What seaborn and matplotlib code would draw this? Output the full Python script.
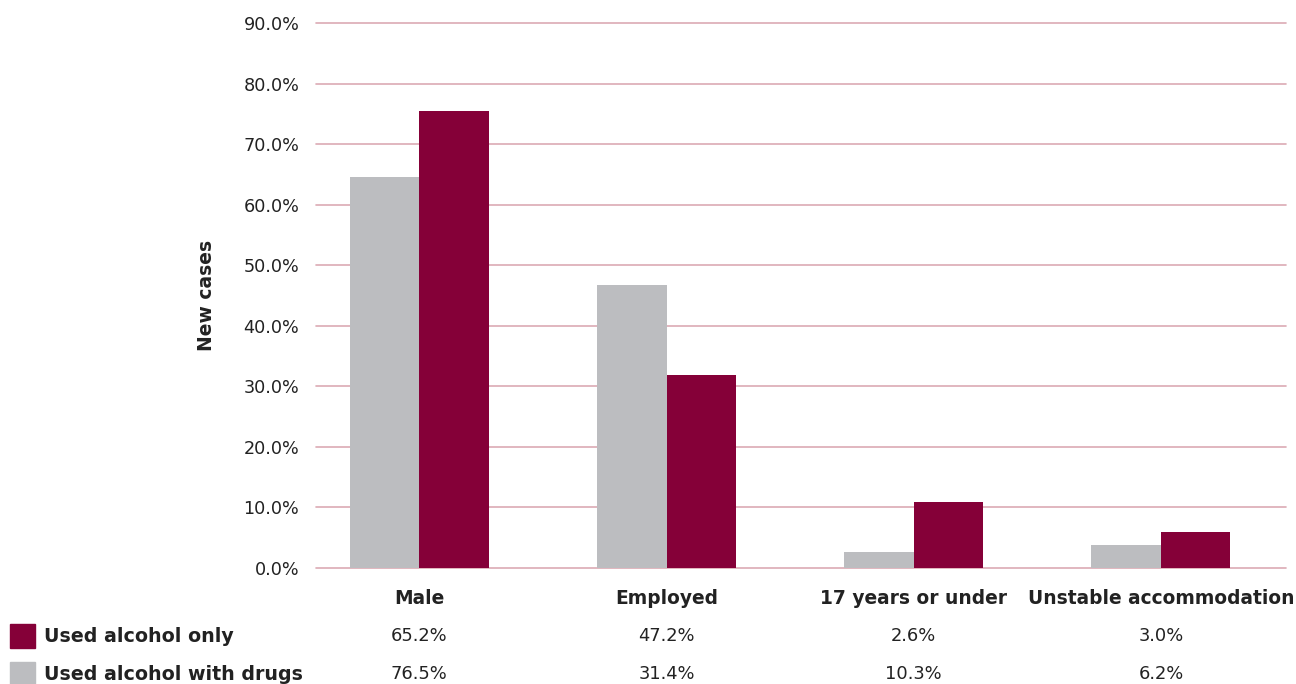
import numpy as np
import pandas as pd
import matplotlib
matplotlib.use("Agg")
import matplotlib.pyplot as plt
import matplotlib.transforms as mtransforms
from matplotlib.patches import Rectangle
import seaborn as sns

# chart data (bar heights, table labels as printed)
categories = ["Male", "Employed", "17 years or under", "Unstable accommodation"]
grey_series = "Used alcohol with drugs"
maroon_series = "Used alcohol only"
grey_values = [64.5, 46.7, 2.6, 3.8]
maroon_values = [75.4, 31.8, 10.9, 5.9]
row_alcohol_only = ["65.2%", "47.2%", "2.6%", "3.0%"]
row_alcohol_drugs = ["76.5%", "31.4%", "10.3%", "6.2%"]
y_ticks = [0, 10, 20, 30, 40, 50, 60, 70, 80, 90]

GREY = "#bcbdc0"
MAROON = "#850038"
GRID = "#dcaab4"
TEXT = "#222222"

df = pd.DataFrame({
    "category": categories * 2,
    "series": [grey_series] * 4 + [maroon_series] * 4,
    "value": grey_values + maroon_values,
})

sns.set_style("white")
plt.rcParams["font.family"] = ["DejaVu Sans"]

fig = plt.figure(figsize=(12.96, 6.84), dpi=100)
ax = fig.add_axes([316 / 1296, 1 - 568 / 684, 970 / 1296, 545 / 684])

sns.barplot(data=df, x="category", y="value", hue="series",
            hue_order=[grey_series, maroon_series],
            palette=[GREY, MAROON], width=0.5625, saturation=1,
            linewidth=0, legend=False, ax=ax, zorder=3)

ax.set_ylim(0, 90)
ax.set_xlim(-0.418, 3.506)
ax.set_yticks(y_ticks)
ax.set_yticklabels([f"{t:.1f}%" for t in y_ticks], fontsize=12.7, color=TEXT)
ax.tick_params(axis="y", length=0, pad=12)
ax.set_xticks([])
ax.set_xlabel("")
ax.set_ylabel("New cases", fontsize=13.5, fontweight="bold", color=TEXT, labelpad=20)
for t in y_ticks:
    ax.axhline(t, color=GRID, lw=1.2, zorder=1, clip_on=False)
for s in ax.spines.values():
    s.set_visible(False)

# table below the axes
trans = mtransforms.blended_transform_factory(ax.transData, fig.transFigure)
row_y = [1 - 599 / 684, 1 - 636 / 684, 1 - 674 / 684]
for i, cat in enumerate(categories):
    ax.text(i, row_y[0], cat, transform=trans, ha="center", va="center",
            fontsize=13.4, fontweight="bold", color=TEXT, clip_on=False)
    ax.text(i, row_y[1], row_alcohol_only[i], transform=trans, ha="center",
            va="center", fontsize=12.9, color=TEXT, clip_on=False)
    ax.text(i, row_y[2], row_alcohol_drugs[i], transform=trans, ha="center",
            va="center", fontsize=12.9, color=TEXT, clip_on=False)

for y, label, col in [(row_y[1], maroon_series, MAROON), (row_y[2], grey_series, GREY)]:
    fig.patches.append(Rectangle((10 / 1296, y - 12 / 684), 25 / 1296, 24 / 684,
                                 transform=fig.transFigure, color=col))
    fig.text(44 / 1296, y, label, ha="left", va="center", fontsize=13.7,
             fontweight="bold", color=TEXT)

fig.savefig("out.png", dpi=100)
